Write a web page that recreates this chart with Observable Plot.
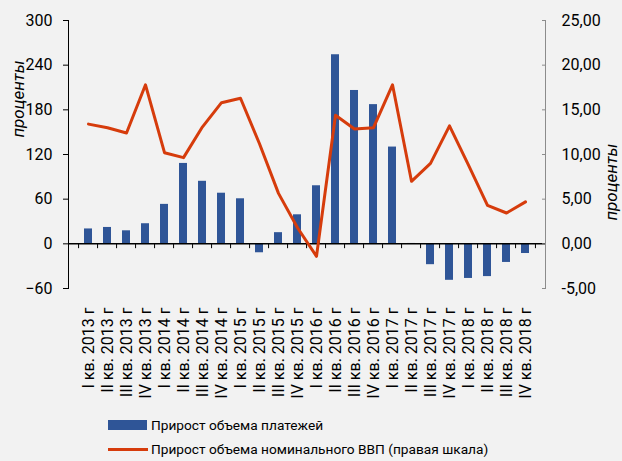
<!DOCTYPE html>
<html><head><meta charset="utf-8">
<script src="https://cdn.jsdelivr.net/npm/d3@7"></script>
<script src="https://cdn.jsdelivr.net/npm/@observablehq/plot@0.6"></script>
<style>
html,body{margin:0;padding:0;background:#f2f2f2;}
#wrap{width:622px;height:461px;position:relative;overflow:hidden;background:#f2f2f2;font-family:"Roboto",sans-serif;color:#000;}
.legend{position:absolute;left:108px;top:410px;font-size:13.7px;}
.row{display:flex;align-items:center;height:24px;}
.sw{width:39px;height:10px;background:#2f5597;margin-right:4px;}
.ln{width:40px;height:3px;background:#d63c0c;margin-right:3px;}
</style></head><body>
<div id="wrap"><div id="chart"></div>
<div class="legend">
<div class="row" style="margin-top:3px"><div class="sw"></div><span id="l1"></span></div>
<div class="row"><div class="ln"></div><span id="l2"></span></div>
</div></div>
<script>
const quarters = ["I кв. 2013 г","II кв. 2013 г","III кв. 2013 г","IV кв. 2013 г",
  "I кв. 2014 г","II кв. 2014 г","III кв. 2014 г","IV кв. 2014 г",
  "I кв. 2015 г","II кв. 2015 г","III кв. 2015 г","IV кв. 2015 г",
  "I кв. 2016 г","II кв. 2016 г","III кв. 2016 г","IV кв. 2016 г",
  "I кв. 2017 г","II кв. 2017 г","III кв. 2017 г","IV кв. 2017 г",
  "I кв. 2018 г","II кв. 2018 г","III кв. 2018 г","IV кв. 2018 г"];
const payments = [20, 22, 17.5, 27, 53, 108, 84, 68, 60.5, -12, 15, 39,
  78, 254, 206, 187, 130, 0.5, -28, -49, -46.5, -44, -25, -13];
const gdp = [13.4, 13.0, 12.4, 17.8, 10.2, 9.65, 13.1, 15.8, 16.3, 11.2, 5.65, 1.8,
  -1.4, 14.4, 12.85, 13.0, 17.8, 7.0, 9.0, 13.2, 8.8, 4.3, 3.45, 4.7];
const leftTicks = [-60, 0, 60, 120, 180, 240, 300];
const rightTicks = [-5, 0, 5, 10, 15, 20, 25];
const seriesNames = ["Прирост объема платежей", "Прирост объема номинального ВВП (правая шкала)"];
const axisTitle = "проценты";
const ratio = 12; // right scale (25) maps to left scale (300)

document.getElementById("l1").textContent = seriesNames[0];
document.getElementById("l2").textContent = seriesNames[1];

const rows = quarters.map((q, i) => ({q, p: payments[i], g: gdp[i]}));
const W = 622, H = 410, mL = 68, mR = 77, mT = 20, mB = H - 288;
const step = (W - mL - mR) / quarters.length;
const font = '"Roboto",sans-serif';

const chart = Plot.plot({
  width: W, height: H, marginLeft: mL, marginRight: mR, marginTop: mT, marginBottom: mB,
  style: {background: "transparent", fontFamily: font, fontSize: "16px", color: "#000", overflow: "visible"},
  x: {domain: quarters, paddingInner: 0.6, paddingOuter: 0.3, axis: null},
  y: {domain: [-60, 300], axis: null},
  marks: [
    Plot.barY(rows, {x: "q", y: "p", fill: "#2f5597"}),
    Plot.ruleY([0], {stroke: "#000", strokeWidth: 1.5}),
    Plot.ruleX(quarters, {x: d => d, y1: 0, y2: -6.5, dx: -step / 2, stroke: "#000"}),
    Plot.ruleX([quarters[quarters.length - 1]], {x: d => d, y1: 0, y2: -6.5, dx: step / 2, stroke: "#000"}),
    Plot.lineY(rows, {x: "q", y: d => d.g * ratio, stroke: "#d63c0c", strokeWidth: 3}),
    Plot.frame({anchor: "left", stroke: "#000"}),
    Plot.frame({anchor: "right", stroke: "#8c8c8c"}),
    Plot.axisY({anchor: "left", ticks: leftTicks, tickSize: 5, tickPadding: 11, label: null}),
    Plot.axisY({anchor: "right", ticks: rightTicks.map(v => v * ratio),
      tickFormat: v => (v / ratio).toFixed(2).replace(".", ","),
      tickSize: -4, tickPadding: 20, label: null, stroke: "#8c8c8c"}),
    Plot.axisX({anchor: "bottom", tickSize: 0, tickRotate: -90, tickPadding: 19, label: null}),
    Plot.text([axisTitle], {frameAnchor: "left", rotate: -90, dx: -50, dy: -17, fontStyle: "italic", fontSize: 17}),
    Plot.text([axisTitle], {frameAnchor: "right", rotate: -90, dx: 66, dy: -11, fontStyle: "italic", fontSize: 17})
  ]
});
document.getElementById("chart").appendChild(chart);
</script>
</body></html>
